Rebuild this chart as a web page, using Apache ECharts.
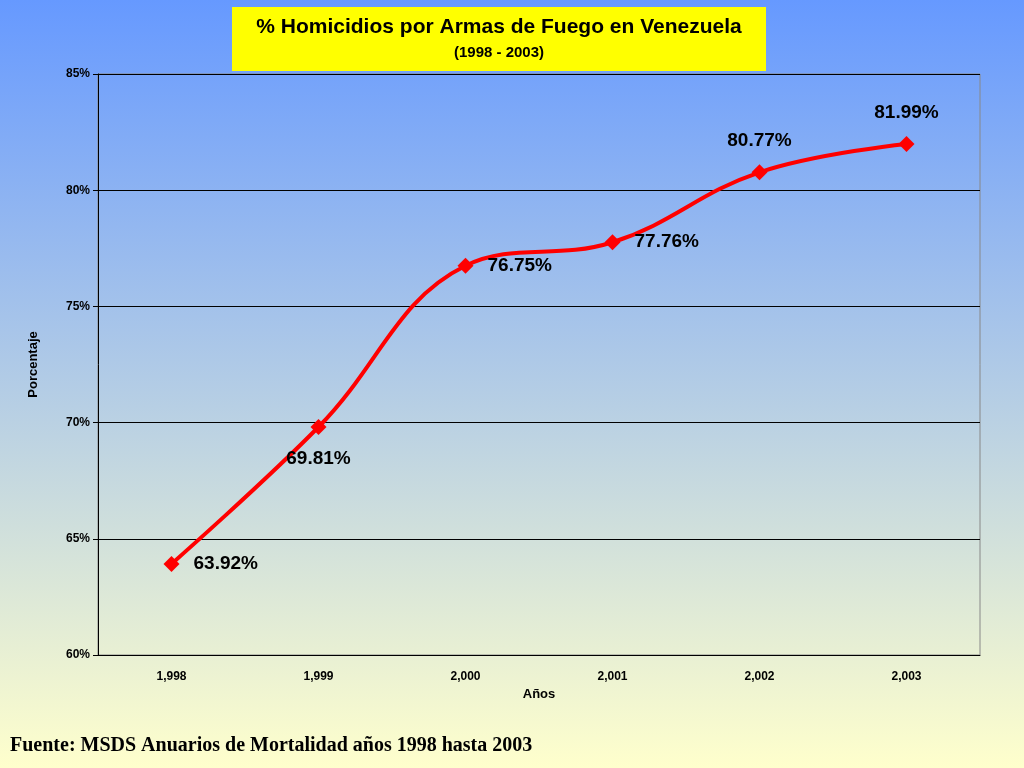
<!DOCTYPE html>
<html><head><meta charset="utf-8">
<script src="https://cdn.jsdelivr.net/npm/echarts@6/dist/echarts.min.js"></script>
<style>
html,body{margin:0;padding:0;}
#c{width:1024px;height:768px;background:linear-gradient(to bottom,#6699ff 0%,#ffffcc 100%);}
</style></head><body>
<div id="c"></div>
<script>
// datos
var anios = ['1,998', '1,999', '2,000', '2,001', '2,002', '2,003'];
var porcentajes = [63.92, 69.81, 76.75, 77.76, 80.77, 81.99];
var posiciones = ['right', 'bottom', 'right', 'right', 'top', 'top'];

var myChart = echarts.init(document.getElementById('c'));

var option = {
    backgroundColor: 'transparent',
    grid: { left: 98, right: 44, top: 74, bottom: 113, show: true, borderColor: '#888', borderWidth: 1 },
    graphic: [
        { type: 'rect', shape: { x: 232, y: 7, width: 534, height: 64 }, style: { fill: '#ffff00' } },
        { type: 'text', x: 499, y: 27, style: { text: '% Homicidios por Armas de Fuego en Venezuela', fill: '#000', font: 'bold 21px "Liberation Sans", Arial', align: 'center', verticalAlign: 'middle' } },
        { type: 'text', x: 499, y: 53, style: { text: '(1998 - 2003)', fill: '#000', font: 'bold 15px "Liberation Sans", Arial', align: 'center', verticalAlign: 'middle' } },
        { type: 'text', x: 10, y: 746, style: { text: 'Fuente: MSDS Anuarios de Mortalidad años 1998 hasta 2003', fill: '#000', font: 'bold 20px "Liberation Serif", "Times New Roman"', verticalAlign: 'middle' } }
    ],
    xAxis: {
        type: 'category',
        data: anios,
        boundaryGap: true,
        name: 'Años',
        nameLocation: 'middle',
        nameGap: 28,
        nameTextStyle: { fontWeight: 'bold', fontSize: 13, color: '#000', fontFamily: 'Liberation Sans' },
        axisLine: { lineStyle: { color: '#000' } },
        axisTick: { lineStyle: { color: '#000' }, length: 5, alignWithLabel: false },
        axisLabel: { color: '#000', fontWeight: 'bold', fontSize: 12, margin: 16, fontFamily: 'Liberation Sans' }
    },
    yAxis: {
        type: 'value',
        min: 60, max: 85, interval: 5,
        name: 'Porcentaje',
        nameLocation: 'middle',
        nameGap: 58,
        nameTextStyle: { fontWeight: 'bold', fontSize: 13, color: '#000', fontFamily: 'Liberation Sans' },
        axisLine: { show: true, lineStyle: { color: '#000' } },
        axisTick: { show: true, lineStyle: { color: '#000' }, length: 5 },
        axisLabel: { color: '#000', fontWeight: 'bold', fontSize: 12, formatter: '{value}%', fontFamily: 'Liberation Sans' },
        splitLine: { lineStyle: { color: '#000', width: 1 } }
    },
    series: [{
        type: 'line',
        data: porcentajes.map(function (v, i) {
            return { value: v, label: { position: posiciones[i] } };
        }),
        smooth: 0.4,
        symbol: 'diamond',
        symbolSize: 16,
        lineStyle: { color: '#ff0000', width: 4 },
        itemStyle: { color: '#ff0000' },
        label: {
            show: true,
            formatter: function (p) { return p.value.toFixed(2) + '%'; },
            color: '#000',
            fontWeight: 'bold',
            fontSize: 19,
            distance: 14,
            fontFamily: 'Liberation Sans'
        }
    }]
};
myChart.setOption(option);
</script>
</body></html>
